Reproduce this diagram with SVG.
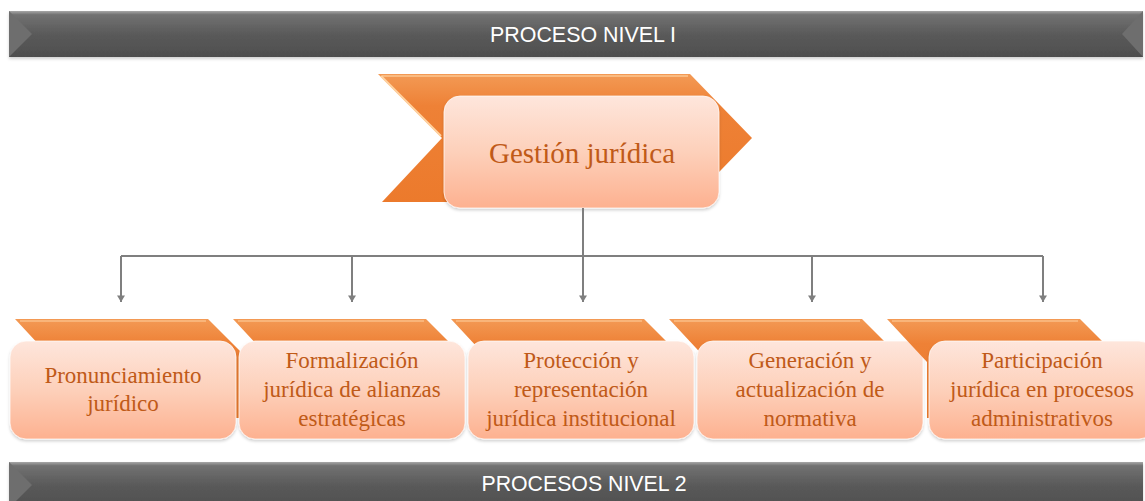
<svg xmlns="http://www.w3.org/2000/svg" width="1145" height="501" viewBox="0 0 1145 501">
  <defs>
    <linearGradient id="gBanner" x1="0" y1="0" x2="0" y2="1">
      <stop offset="0" stop-color="#a8a8a8"/>
      <stop offset="0.08" stop-color="#727272"/>
      <stop offset="0.5" stop-color="#5a5a5a"/>
      <stop offset="1" stop-color="#4e4e4e"/>
    </linearGradient>
    <linearGradient id="gOrange" x1="0" y1="0" x2="0" y2="1">
      <stop offset="0" stop-color="#f39a55"/>
      <stop offset="0.25" stop-color="#ee8136"/>
      <stop offset="1" stop-color="#ec7a2c"/>
    </linearGradient>
    <linearGradient id="gBox" x1="0" y1="0" x2="0" y2="1">
      <stop offset="0" stop-color="#fee6dc"/>
      <stop offset="0.5" stop-color="#fdd0ba"/>
      <stop offset="1" stop-color="#fdb190"/>
    </linearGradient>
    <filter id="shadow" x="-10%" y="-10%" width="120%" height="130%">
      <feDropShadow dx="0" dy="2" stdDeviation="1.5" flood-color="#000" flood-opacity="0.18"/>
    </filter>
    <marker id="arrow" viewBox="0 0 10 10" refX="9" refY="5" markerWidth="5" markerHeight="5" orient="auto" markerUnits="userSpaceOnUse">
      <path d="M0,0 L10,5 L0,10 Z" fill="#7f7f7f"/>
    </marker>
    <marker id="arr" viewBox="0 0 8 10" refX="8" refY="5" markerWidth="10" markerHeight="8" orient="auto" markerUnits="userSpaceOnUse">
      <path d="M0,0 L8,5 L0,10 Z" fill="#7f7f7f"/>
    </marker>
  </defs>
  <style>
    .banner { fill: url(#gBanner); }
    .bevel { fill: #6e6e6e; }
    .btext { font-family: "Liberation Sans", Arial, sans-serif; font-size: 22px; fill: #ffffff; text-anchor: middle; }
    .orange { fill: url(#gOrange); }
    .hl { fill: none; stroke: #ffd2a0; stroke-width: 2; stroke-linejoin: round; }
    .box { fill: url(#gBox); stroke: #ffffff; stroke-opacity: 0.7; stroke-width: 1; filter: url(#shadow); }
    .ntext { font-family: "Liberation Serif", "Times New Roman", serif; font-size: 23px; fill: #c05a18; text-anchor: middle; }
    .conn { fill: none; stroke: #7f7f7f; stroke-width: 2; }
  </style>

  <rect width="1145" height="501" fill="#ffffff"/>

  <g id="banner-top">
    <rect x="9" y="11" width="1134" height="46" class="banner" filter="url(#shadow)"/>
    <polygon points="9,11 32,34 9,57" class="bevel"/>
    <polygon points="1143,11 1122,34 1143,57" class="bevel"/>
    <text x="583" y="42" class="btext" textLength="186" lengthAdjust="spacingAndGlyphs">PROCESO NIVEL I</text>
  </g>

  <g id="banner-bottom">
    <rect x="9" y="462" width="1134" height="46" class="banner" filter="url(#shadow)"/>
    <polygon points="9,462 32,485 9,508" class="bevel"/>
    <text x="584" y="491" class="btext" textLength="205" lengthAdjust="spacingAndGlyphs">PROCESOS NIVEL 2</text>
  </g>

  <g id="node-gestion">
    <polygon points="378,74 690,74 752,138 690,202 382,202 442,138" class="orange"/>
    <polyline points="382,76 688,76" class="hl" stroke-opacity="0.6"/>
    <polyline points="381,76 441,136" class="hl"/>
    <rect x="444" y="96" width="275" height="112" rx="16" class="box"/>
    <text x="582" y="163" class="ntext" style="font-size:29px">Gestión jurídica</text>
  </g>

  <g id="connectors">
    <path d="M583,208 V302" class="conn" marker-end="url(#arr)"/>
    <path d="M121,256 H1043" class="conn"/>
    <path d="M121,256 V302" class="conn" marker-end="url(#arr)"/>
    <path d="M352,256 V302" class="conn" marker-end="url(#arr)"/>
    <path d="M812,256 V302" class="conn" marker-end="url(#arr)"/>
    <path d="M1043,256 V302" class="conn" marker-end="url(#arr)"/>
  </g>

  <g id="node-1">
    <polygon points="15,319 208,319 240,351 240,418 55,418 55,362" class="orange"/>
    <polyline points="20,321 206,321" class="hl" stroke-opacity="0.5"/>
    <rect x="10" y="341" width="226" height="98" rx="16" class="box"/>
    <text class="ntext"><tspan x="123" y="383">Pronunciamiento</tspan><tspan x="123" y="411">jurídico</tspan></text>
  </g>

  <g id="node-2">
    <polygon points="233,319 426,319 458,351 458,418 273,418 273,362" class="orange"/>
    <polyline points="238,321 424,321" class="hl" stroke-opacity="0.5"/>
    <rect x="239" y="341" width="226" height="98" rx="16" class="box"/>
    <text class="ntext"><tspan x="352" y="368">Formalización</tspan><tspan x="352" y="397">jurídica de alianzas</tspan><tspan x="352" y="426">estratégicas</tspan></text>
  </g>

  <g id="node-3">
    <polygon points="451,319 644,319 676,351 676,418 491,418 491,362" class="orange"/>
    <polyline points="456,321 642,321" class="hl" stroke-opacity="0.5"/>
    <rect x="468" y="341" width="226" height="98" rx="16" class="box"/>
    <text class="ntext"><tspan x="581" y="368">Protección y</tspan><tspan x="581" y="397">representación</tspan><tspan x="581" y="426">jurídica institucional</tspan></text>
  </g>

  <g id="node-4">
    <polygon points="669,319 862,319 894,351 894,418 709,418 709,362" class="orange"/>
    <polyline points="674,321 860,321" class="hl" stroke-opacity="0.5"/>
    <rect x="697" y="341" width="226" height="98" rx="16" class="box"/>
    <text class="ntext"><tspan x="810" y="368">Generación y</tspan><tspan x="810" y="397">actualización de</tspan><tspan x="810" y="426">normativa</tspan></text>
  </g>

  <g id="node-5">
    <polygon points="887,319 1080,319 1112,351 1112,418 927,418 927,362" class="orange"/>
    <polyline points="892,321 1078,321" class="hl" stroke-opacity="0.5"/>
    <rect x="929" y="341" width="226" height="98" rx="16" class="box"/>
    <text class="ntext"><tspan x="1042" y="368">Participación</tspan><tspan x="1042" y="397">jurídica en procesos</tspan><tspan x="1042" y="426">administrativos</tspan></text>
  </g>
</svg>
